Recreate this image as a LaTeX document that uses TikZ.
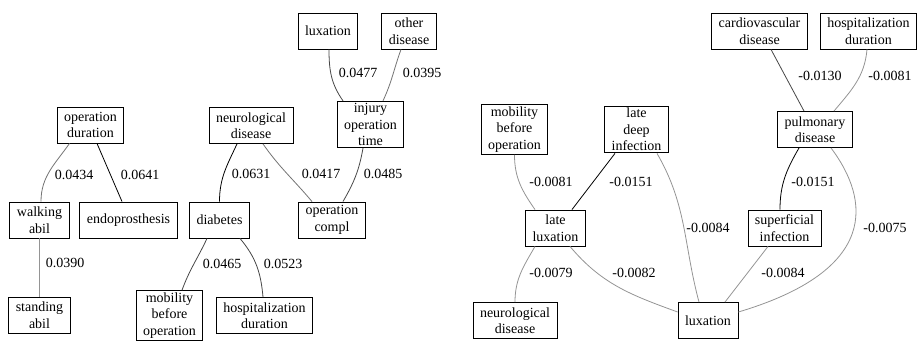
\documentclass[tikz,border=0pt]{standalone}
\usepackage{fontspec}
\setmainfont{Liberation Serif}
\newfontfamily\tms{Liberation Serif}
\usepackage{tikz}
\usetikzlibrary{calc}

\begin{document}
\begin{tikzpicture}[x=1pt, y=1pt,
        box/.style={draw, rectangle, line width=0.9pt, align=center, inner xsep=7pt, inner ysep=2pt,
            minimum height=36pt, minimum width=52pt, font=\tms\fontsize{14}{16.5}\selectfont},
        wt/.style={inner sep=1pt, font=\tms\fontsize{14}{16.5}\selectfont},
        lk1/.style={draw=black, line width=0.8pt},
        lk2/.style={draw=black!72, line width=0.8pt},
        lk3/.style={draw=black!55, line width=0.8pt},
        lk4/.style={draw=black!42, line width=0.8pt}]
        \useasboundingbox (0,0) rectangle (918,340);

        % left graph
        \node[box] (opdur) at (90.5,215) {operation\\duration};
        \node[box] (walk) at (39.5,120) {walking\\abil};
        \node[box] (endo) at (128.5,120) {endoprosthesis};
        \node[box] (stand) at (39.5,25) {standing\\abil};
        \node[box] (luxl) at (328,309) {luxation};
        \node[box] (other) at (409,309) {other\\disease};
        \node[box] (injury) at (370.5,215.5) {injury\\operation\\time};
        \node[box] (neurol) at (251,214.5) {neurological\\disease};
        \node[box] (diab) at (219.5,120) {diabetes};
        \node[box] (opcompl) at (332,120) {operation\\compl};
        \node[box] (mobl) at (169.5,24.5) {mobility\\before\\operation};
        \node[box] (hospl) at (264.5,24.5) {hospitalization\\duration};

        \draw[lk3] ([xshift=-21pt]opdur.south) to[out=-125, in=90] ([xshift=1.5pt]walk.north);
        \draw[lk1] ([xshift=6.5pt]opdur.south) -- ([xshift=-6.5pt]endo.north);
        \draw[lk4] (walk.south) -- (stand.north);
        \draw[lk2] ([xshift=1pt]luxl.south) to[out=-90, in=125] ([xshift=-27.5pt]injury.north);
        \draw[lk3] ([xshift=-8pt]other.south) to[out=-110, in=65] ([xshift=12.5pt]injury.north);
        \draw[lk1] ([xshift=-14pt]neurol.south) to[out=-115, in=90] (diab.north);
        \draw[lk3] ([xshift=12pt]neurol.south) to[out=-55, in=130] ([xshift=-20pt]opcompl.north);
        \draw[lk2] ([xshift=-7.5pt]injury.south) to[out=-100, in=60] ([xshift=11pt]opcompl.north);
        \draw[lk2] ([xshift=-12.5pt]diab.south) to[out=-115, in=70] ([xshift=12.5pt]mobl.north);
        \draw[lk2] ([xshift=20.5pt]diab.south) to[out=-50, in=95] ([xshift=-1.5pt]hospl.north);

        \node[wt] (w1) at (74,165) {0.0434};
        \node[wt] (w2) at (140,165) {0.0641};
        \node[wt] (w3) at (65,77) {0.0390};
        \node[wt] (w4) at (358,267) {0.0477};
        \node[wt] (w5) at (422,267) {0.0395};
        \node[wt] (w6) at (251,166) {0.0631};
        \node[wt] (w7) at (321,166) {0.0417};
        \node[wt] (w8) at (383,166) {0.0485};
        \node[wt] (w9) at (222,76) {0.0465};
        \node[wt] (w10) at (283,76) {0.0523};

        % right graph
        \node[box] (cardio) at (759.5,309) {cardiovascular\\disease};
        \node[box] (hospr) at (868.5,309) {hospitalization\\duration};
        \node[box] (pulm) at (815,210.5) {pulmonary\\disease};
        \node[box] (mobr) at (514.5,210.5) {mobility\\before\\operation};
        \node[box] (ldi) at (636.5,210.5) {late\\deep\\infection};
        \node[box] (latelux) at (555.5,112) {late\\luxation};
        \node[box] (superf) at (784.5,112) {superficial\\infection};
        \node[box] (neuror) at (515,19.5) {neurological\\disease};
        \node[box] (luxr) at (708,19.5) {luxation};

        \draw[lk2] ([xshift=11.5pt]cardio.south) -- ([xshift=-11pt]pulm.north);
        \draw[lk4] ([xshift=-1.5pt]hospr.south) to[out=-95, in=50] ([xshift=19pt]pulm.north);
        \draw[lk4] (mobr.south) to[out=-90, in=125] ([xshift=-20.5pt]latelux.north);
        \draw[lk1] ([xshift=-21.5pt]ldi.south) -- ([xshift=16.5pt]latelux.north);
        \draw[lk4] ([xshift=20.5pt]ldi.south) to[out=-60, in=105] ([xshift=-9pt]luxr.north);
        \draw[lk1] ([xshift=-16pt]pulm.south) to[out=-120, in=90] ([xshift=-4.5pt]superf.north);
        \draw[lk4] ([xshift=16pt]pulm.south) .. controls +(39,-52) and +(141,42) .. ([yshift=8.5pt]luxr.east);
        \draw[lk4] ([xshift=-20.5pt]latelux.south) to[out=-120, in=90] (neuror.north);
        \draw[lk4] ([xshift=14.5pt]latelux.south) to[out=-50, in=160] ([yshift=8.5pt]luxr.west);
        \draw[lk4] ([xshift=-16.5pt]superf.south) -- ([xshift=17pt]luxr.north);

        \node[wt] (v1) at (820,264) {-0.0130};
        \node[wt] (v2) at (890,264) {-0.0081};
        \node[wt] (v3) at (551,158) {-0.0081};
        \node[wt] (v4) at (631,158) {-0.0151};
        \node[wt] (v5) at (813,158) {-0.0151};
        \node[wt] (v6) at (708,112) {-0.0084};
        \node[wt] (v7) at (885,112) {-0.0075};
        \node[wt] (v8) at (551,67) {-0.0079};
        \node[wt] (v9) at (634,67) {-0.0082};
        \node[wt] (v10) at (783,67) {-0.0084};
    \end{tikzpicture}
\end{document}
